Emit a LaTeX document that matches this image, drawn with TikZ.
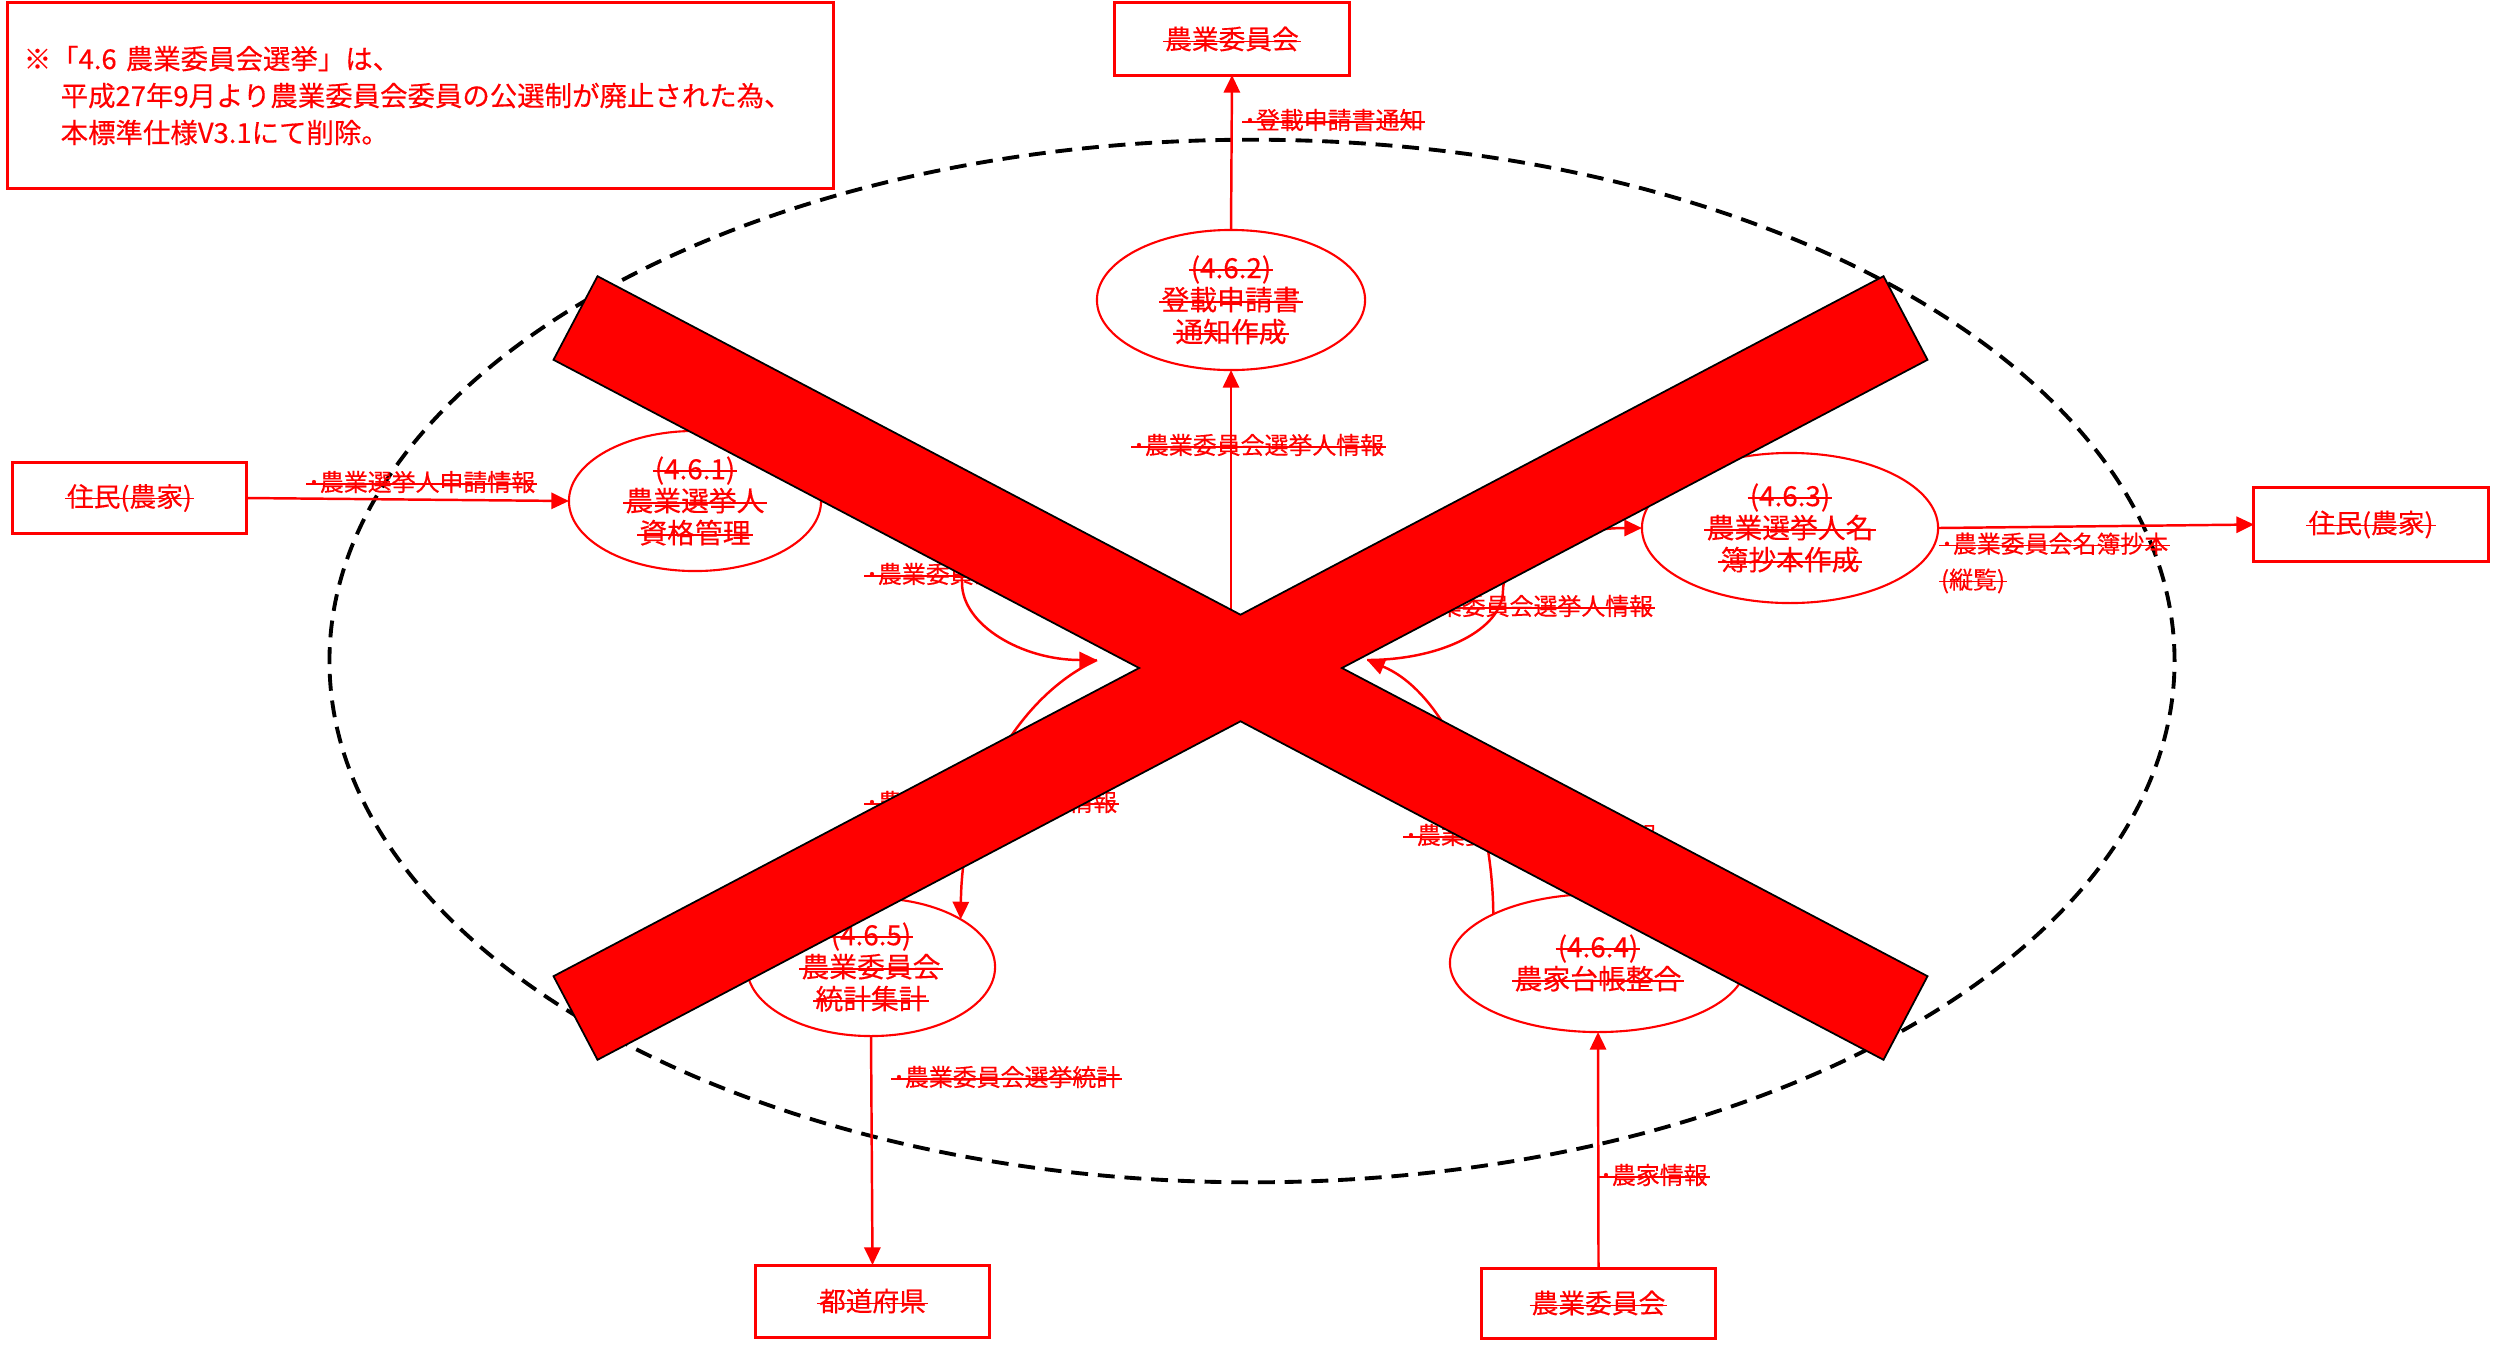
\documentclass[tikz,border=0pt]{standalone}
\usepackage{fontspec}
\setmainfont[FakeBold=0.35]{Noto Sans CJK JP}
\usetikzlibrary{shapes.geometric,arrows.meta}
\definecolor{xred}{RGB}{255,0,0}
\newsavebox\stkbox
\newcommand{\stk}[1]{\sbox\stkbox{#1}\rlap{\kern-0.08em\rule[0.27em]{\dimexpr\wd\stkbox+0.16em\relax}{0.4pt}}\usebox\stkbox}
\begin{document}
\begin{tikzpicture}[x=0.01cm,y=-0.01cm,
  every node/.style={text=xred, inner sep=0pt, outer sep=0pt},
  proc/.style={ellipse, draw=xred, line width=0.6pt, fill=white, align=center, font=\fontsize{7.9}{9.1}\selectfont},
  extbox/.style={rectangle, draw=xred, line width=0.85pt, fill=white, font=\fontsize{7.6}{9}\selectfont},
  flowlabel/.style={anchor=west, align=left, font=\fontsize{6.8}{10.2}\selectfont},
  conn/.style={draw=xred, line width=0.7pt, -{Triangle[length=5pt,width=4.6pt]}},
  boundary/.style={draw=black, line width=1.1pt, dash pattern=on 4.8pt off 2.8pt},
  cross/.style={fill=xred, draw=black, line width=0.5pt, line join=miter}]
\useasboundingbox (0,0) rectangle (2501,1348);

% system boundary
\draw[boundary] (1252,661) ellipse [x radius=9.22cm, y radius=5.21cm];

% note
\node[draw=xred, line width=0.85pt, minimum width=8.25cm, minimum height=1.85cm,
      text width=7.93cm, align=left, inner xsep=0.16cm,
      font=\fontsize{7.8}{10.5}\selectfont] (note) at (420.5,95.5)
  {※「4.6 農業委員会選挙」は、\\\hspace*{10.5pt}平成27年9月より農業委員会委員の公選制が廃止された為、\\\hspace*{10.5pt}本標準仕様V3.1にて削除。};

% external entities
\node[extbox, minimum width=2.34cm, minimum height=0.72cm] (nogyoTop) at (1232,39) {\stk{農業委員会}};
\node[extbox, minimum width=2.33cm, minimum height=0.70cm] (juminL) at (129.5,498) {\stk{住民(農家)}};
\node[extbox, minimum width=2.34cm, minimum height=0.73cm] (juminR) at (2371,524.5) {\stk{住民(農家)}};
\node[extbox, minimum width=2.33cm, minimum height=0.72cm] (pref) at (872.5,1301) {\stk{都道府県}};
\node[extbox, minimum width=2.33cm, minimum height=0.70cm] (nogyoBot) at (1598.5,1303) {\stk{農業委員会}};

% processes
\node[proc, minimum width=2.52cm, minimum height=1.40cm] (p461) at (695,501) {\stk{(4.6.1)}\\\stk{農業選挙人}\\\stk{資格管理}};
\node[proc, minimum width=2.68cm, minimum height=1.40cm] (p462) at (1231,300) {\stk{(4.6.2)}\\\stk{登載申請書}\\\stk{通知作成}};
\node[proc, minimum width=2.96cm, minimum height=1.50cm] (p463) at (1790,528) {\stk{(4.6.3)}\\\stk{農業選挙人名}\\\stk{簿抄本作成}};
\node[proc, minimum width=2.96cm, minimum height=1.38cm] (p464) at (1598,963) {\stk{(4.6.4)}\\\stk{農家台帳整合}};
\node[proc, minimum width=2.48cm, minimum height=1.38cm] (p465) at (871,967) {\stk{(4.6.5)}\\\stk{農業委員会}\\\stk{統計集計}};

% hidden central points
\coordinate (dsW) at (1097,660);
\coordinate (dsE) at (1367,660);
\coordinate (dsN) at (1231,640);

% flows
\draw[conn] (p462.north) -- (nogyoTop.south);
\draw[conn] (dsN) -- (p462.south);
\draw[conn] (juminL.east) -- (p461.west);
\draw[conn] (p461.east) .. controls (899,501) and (962,538) .. (962,583) .. controls (962,625) and (1022,660) .. (dsW);
\draw[conn] (dsW) .. controls (1030,690) and (962,780) .. (p465.28);
\draw[conn] (dsE) .. controls (1442,660) and (1503,629) .. (1503,590) .. controls (1503,556) and (1565,528) .. (p463.west);
\draw[conn] (p464.155) .. controls (1492,790) and (1440,690) .. (dsE);
\draw[conn] (p463.east) -- (juminR.west);
\draw[conn] (p465.south) -- (pref.north);
\draw[conn] (nogyoBot.north) -- (p464.south);

% flow labels
\node[flowlabel] (l1) at (1244,120) {\stk{･登載申請書通知}};
\node[flowlabel] (l2) at (1133,445) {\stk{･農業委員会選挙人情報}};
\node[flowlabel] (l3) at (308,482) {\stk{･農業選挙人申請情報}};
\node[flowlabel] (l4) at (866,574) {\stk{･農業委員会選挙人情報}};
\node[flowlabel] (l5) at (866,802) {\stk{･農業委員会選挙人情報}};
\node[flowlabel] (l6) at (1402,606) {\stk{･農業委員会選挙人情報}};
\node[flowlabel] (l7) at (1405,835) {\stk{･農業委員会選挙人情報}};
\node[flowlabel] (l8) at (1941,563) {\stk{･農業委員会名簿抄本}\\\stk{(縦覧)}};
\node[flowlabel] (l9) at (893,1077) {\stk{･農業委員会選挙統計}};
\node[flowlabel] (l10) at (1600,1175) {\stk{･農家情報}};

% deletion cross
\draw[cross] (597.5,276.2) -- (1240.5,614.7) -- (1883.5,276.2) -- (1927.5,359.8)
  -- (1341.9,668) -- (1927.5,976.2) -- (1883.5,1059.8) -- (1240.5,721.3)
  -- (597.5,1059.8) -- (553.5,976.2) -- (1139.1,668) -- (553.5,359.8) -- cycle;
\end{tikzpicture}
\end{document}
